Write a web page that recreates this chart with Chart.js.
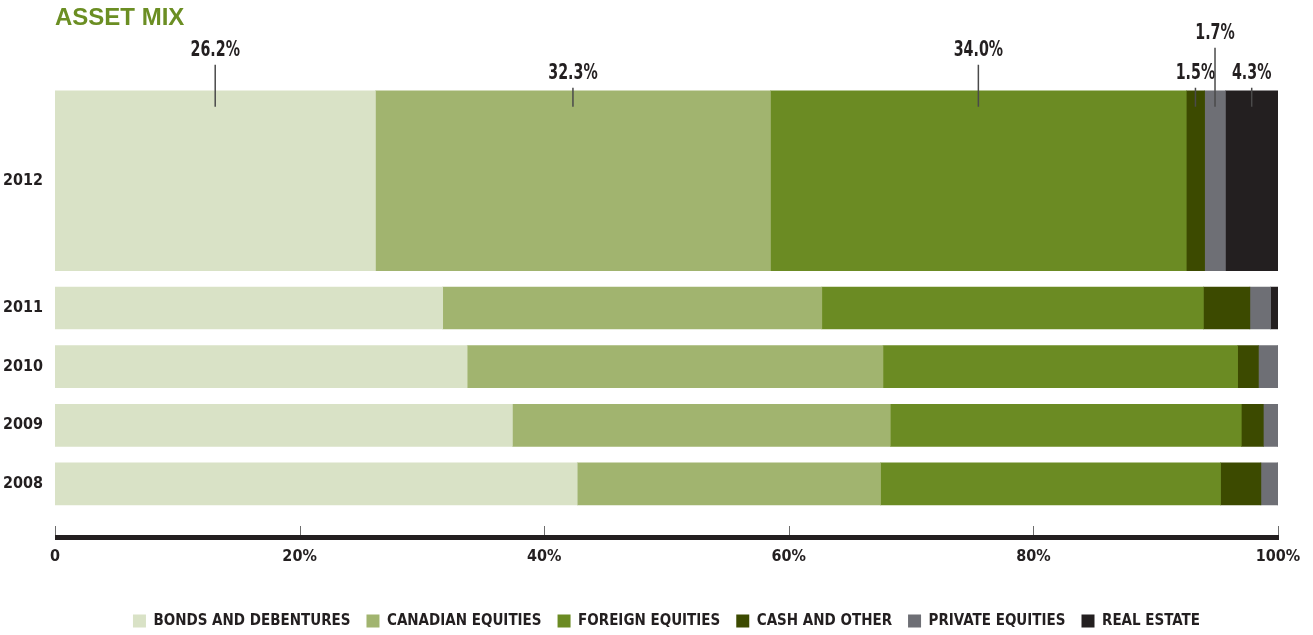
<!DOCTYPE html>
<html>
<head>
<meta charset="utf-8">
<title>Asset Mix</title>
<script src="https://cdn.jsdelivr.net/npm/chart.js@4.4.0/dist/chart.umd.min.js"></script>
<style>
  html, body { margin: 0; padding: 0; background: #fff; }
  #wrap { position: relative; width: 1313px; height: 635px; }
</style>
</head>
<body>
<div id="wrap"><canvas id="assetMix"></canvas></div>
<script>
// rows: latest year first, then the earlier years
const years = ['2012', '2011', '2010', '2009', '2008'];

const seriesNames = [
  'BONDS AND DEBENTURES',
  'CANADIAN EQUITIES',
  'FOREIGN EQUITIES',
  'CASH AND OTHER',
  'PRIVATE EQUITIES',
  'REAL ESTATE'
];

// % of portfolio, same order as years
const bonds      = [26.2, 31.7, 33.7, 37.4, 42.7];
const canadian   = [32.3, 31.0, 34.0, 30.9, 24.8];
const foreign    = [34.0, 31.2, 29.0, 28.7, 27.8];
const cash       = [1.5, 3.8, 1.7, 1.8, 3.3];
const privateEq  = [1.7, 1.7, 1.6, 1.2, 1.4];
const realEstate = [4.3, 0.6, 0, 0, 0];

const xTickLabels = ['0', '20%', '40%', '60%', '80%', '100%'];

// row layout on the y scale (1 unit = one small row); the 2012 row is the big one
const rowCenters = [-2.17, 0, 1, 2, 3];
const yRange = { min: -3.84, max: 3.555 };

const colors = ['#d9e2c6', '#a1b46f', '#6b8b23', '#3c4a00', '#6e6f75', '#231f20'];
const seriesValues = [bonds, canadian, foreign, cash, privateEq, realEstate];

const condensed = '"DejaVu Sans Condensed", "Liberation Sans Narrow", sans-serif';
const ink = '#231f20';

Chart.defaults.font.family = condensed;
Chart.defaults.font.weight = 'bold';
Chart.defaults.color = ink;

const datasets = [];
// big 2012 bar
seriesNames.forEach((name, i) => {
  datasets.push({
    label: name,
    data: [{ x: seriesValues[i][0], y: rowCenters[0] }],
    stack: 'rows',
    backgroundColor: colors[i],
    barThickness: 180,
    isLatest: true
  });
});
// 2011 - 2008
seriesNames.forEach((name, i) => {
  datasets.push({
    label: name,
    data: years.slice(1).map((_, j) => ({ x: seriesValues[i][j + 1], y: rowCenters[j + 1] })),
    stack: 'rows',
    backgroundColor: colors[i],
    barThickness: 42
  });
});

// value callouts above the big bar: how far above the bar each label sits
const labelLift = [40, 17, 40, 17, 57, 17];

const valueLabels = {
  id: 'valueLabels',
  afterDatasetsDraw(chart) {
    const ctx = chart.ctx;
    ctx.save();
    chart.data.datasets.forEach((ds, di) => {
      if (!ds.isLatest) return;
      const bar = chart.getDatasetMeta(di).data[0];
      const p = bar.getProps(['x', 'base', 'y', 'height'], true);
      const cx = (p.x + p.base) / 2;
      const top = p.y - p.height / 2;
      const ty = top - labelLift[di];

      ctx.strokeStyle = '#4a4a4a';
      ctx.lineWidth = 1.5;
      ctx.beginPath();
      ctx.moveTo(cx, ty + 14);
      ctx.lineTo(cx, top + 16);
      ctx.stroke();

      // tall, narrow figures
      ctx.save();
      ctx.translate(cx, ty);
      ctx.scale(0.72, 1);
      ctx.font = 'bold 22px ' + condensed;
      ctx.fillStyle = ink;
      ctx.textAlign = 'center';
      ctx.textBaseline = 'middle';
      ctx.fillText(ds.data[0].x.toFixed(1) + '%', 0, 0);
      ctx.restore();
    });
    ctx.restore();
  }
};

// heavy baseline under the bars with short ticks rising from it
const axisLine = {
  id: 'axisLine',
  afterDraw(chart) {
    const { ctx, chartArea } = chart;
    const x = chart.scales.x;
    const yLine = chartArea.bottom + 18.5;
    ctx.save();
    ctx.strokeStyle = '#6d6d6d';
    ctx.lineWidth = 1;
    x.ticks.forEach(t => {
      const px = Math.round(x.getPixelForValue(t.value)) + 0.5;
      ctx.beginPath();
      ctx.moveTo(px, yLine - 9);
      ctx.lineTo(px, yLine);
      ctx.stroke();
    });
    ctx.fillStyle = ink;
    ctx.fillRect(x.left, yLine, x.right - x.left + 1, 5);
    ctx.restore();
  }
};

new Chart(document.getElementById('assetMix'), {
  type: 'bar',
  data: { datasets },
  options: {
    indexAxis: 'y',
    responsive: true,
    maintainAspectRatio: false,
    animation: false,
    layout: { padding: { top: 4, left: 0, right: 35, bottom: -3.5 } },
    scales: {
      x: {
        stacked: true,
        min: 0,
        max: 100,
        grid: { display: false, drawTicks: false },
        border: { display: false },
        ticks: {
          stepSize: 20,
          padding: 10,
          // tall line box keeps the labels clear of the baseline
          font: { size: 16, lineHeight: 3.8125 },
          callback: (v, i) => xTickLabels[i]
        }
      },
      y: {
        type: 'linear',
        stacked: true,
        reverse: true,
        offset: false,
        min: yRange.min,
        max: yRange.max,
        grid: { display: false, drawTicks: false },
        border: { display: false },
        afterBuildTicks(scale) {
          scale.ticks = rowCenters.map(v => ({ value: v }));
        },
        afterFit(scale) { scale.width = 55; },
        ticks: {
          autoSkip: false,
          padding: 12,
          font: { size: 16 },
          callback: (v, i) => years[i]
        }
      }
    },
    plugins: {
      title: {
        display: true,
        text: 'ASSET MIX',
        align: 'start',
        fullSize: false,
        color: '#6b8e23',
        font: { family: '"Liberation Sans", Arial, sans-serif', size: 24, weight: 'bold' },
        padding: { top: 0, bottom: 50 }
      },
      legend: {
        position: 'bottom',
        fullSize: false,
        labels: {
          boxWidth: 13,
          boxHeight: 13,
          padding: 16,
          color: ink,
          font: { size: 15 },
          filter: (item, data) => !data.datasets[item.datasetIndex].isLatest
        }
      }
    }
  },
  plugins: [valueLabels, axisLine]
});
</script>
</body>
</html>
